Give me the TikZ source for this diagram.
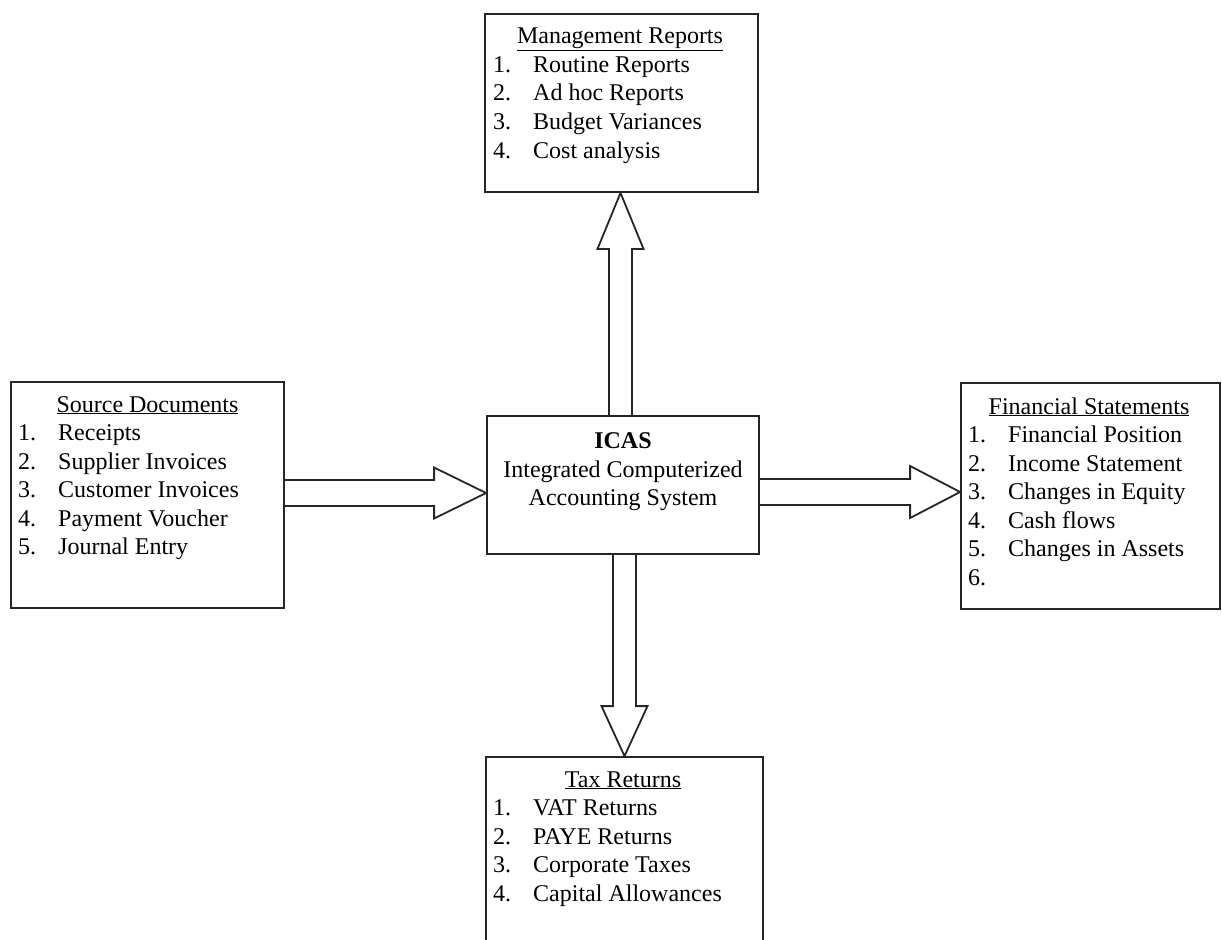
\documentclass[tikz,border=0pt]{standalone}
\usepackage{fontspec}
\setmainfont{Liberation Serif}
\usetikzlibrary{calc}

\tikzset{
  box/.style={draw=black!85, line width=1.8pt, rectangle, inner sep=0pt},
  blk/.style={draw=black!85, line width=1.8pt, line join=miter},
  txt/.style={inner sep=0pt, anchor=base west, font=\fontsize{24}{28}\selectfont},
  ttl/.style={inner sep=0pt, anchor=base, font=\fontsize{24}{28}\selectfont},
}

% horizontal block arrow: #1 tail, #2 tip, #3 head length (signed), #4 shaft half width, #5 head half width
\newcommand\hblk[5]{%
  \draw[blk] ($(#1)+(0,-#4)$) -- ($(#2)+(#3,-#4)$) -- ($(#2)+(#3,-#5)$) -- (#2)
    -- ($(#2)+(#3,#5)$) -- ($(#2)+(#3,#4)$) -- ($(#1)+(0,#4)$);}
% vertical block arrow: same arguments, along y
\newcommand\vblk[5]{%
  \draw[blk] ($(#1)+(-#4,0)$) -- ($(#2)+(-#4,#3)$) -- ($(#2)+(-#5,#3)$) -- (#2)
    -- ($(#2)+(#5,#3)$) -- ($(#2)+(#4,#3)$) -- ($(#1)+(#4,0)$);}

\begin{document}
\begin{tikzpicture}[x=1pt,y=-1pt]
\useasboundingbox (0,0) rectangle (1222,939);

% boxes
\node[box, minimum width=273pt, minimum height=178pt] (mgmt) at (621.5,103) {};
\node[box, minimum width=273pt, minimum height=226pt] (src)  at (147.5,495) {};
\node[box, minimum width=272pt, minimum height=138pt] (icas) at (623,485) {};
\node[box, minimum width=259pt, minimum height=226pt] (fin)  at (1090.5,496) {};
\node[box, minimum width=277pt, minimum height=193pt] (tax)  at (624.5,853.5) {};

% Management Reports
\node[ttl] (mgmt-t) at (620,44) {\underline{Management Reports}};
\foreach \i/\s in {1/Routine Reports,2/Ad hoc Reports,3/Budget Variances,4/Cost analysis}{
  \node[txt] (mgmt-n\i) at (493,{44+28.5*\i}) {\i.};
  \node[txt] (mgmt-i\i) at (533,{44+28.5*\i}) {\s};
}

% Source Documents
\node[ttl] (src-t) at (147.5,412) {\underline{Source Documents}};
\foreach \i/\s in {1/Receipts,2/Supplier Invoices,3/Customer Invoices,4/Payment Voucher,5/Journal Entry}{
  \node[txt] (src-n\i) at (18,{412+28.5*\i}) {\i.};
  \node[txt] (src-i\i) at (58,{412+28.5*\i}) {\s};
}

% ICAS
\node[ttl, font=\fontsize{24}{28}\selectfont\bfseries] (icas-t) at (623,448) {ICAS};
\node[ttl] (icas-l1) at (623,477) {Integrated Computerized};
\node[ttl] (icas-l2) at (623,505) {Accounting System};

% Financial Statements
\node[ttl] (fin-t) at (1089,414) {\underline{Financial Statements}};
\foreach \i/\s in {1/Financial Position,2/Income Statement,3/Changes in Equity,4/Cash flows,5/Changes in Assets,6/{}}{
  \node[txt] (fin-n\i) at (968,{414+28.5*\i}) {\i.};
  \node[txt] (fin-i\i) at (1008,{414+28.5*\i}) {\s};
}

% Tax Returns
\node[ttl] (tax-t) at (623,787) {\underline{Tax Returns}};
\foreach \i/\s in {1/VAT Returns,2/PAYE Returns,3/Corporate Taxes,4/Capital Allowances}{
  \node[txt] (tax-n\i) at (493,{787+28.5*\i}) {\i.};
  \node[txt] (tax-i\i) at (533,{787+28.5*\i}) {\s};
}

% arrow axes
\coordinate (ux) at (620.5,0);
\coordinate (dx) at (624.5,0);
\coordinate (ly) at (0,493);
\coordinate (ry) at (0,492);

\coordinate (upS) at (icas.north -| ux);
\coordinate (upE) at (mgmt.south -| ux);
\coordinate (dnS) at (icas.south -| dx);
\coordinate (dnE) at (tax.north -| dx);
\coordinate (lfS) at (src.east |- ly);
\coordinate (lfE) at (icas.west |- ly);
\coordinate (rtS) at (icas.east |- ry);
\coordinate (rtE) at (fin.west |- ry);

\vblk{upS}{upE}{56}{11.5}{23}
\vblk{dnS}{dnE}{-50}{11.5}{23}
\hblk{lfS}{lfE}{-52}{13}{25.5}
\hblk{rtS}{rtE}{-50}{13}{26}
\end{tikzpicture}
\end{document}
